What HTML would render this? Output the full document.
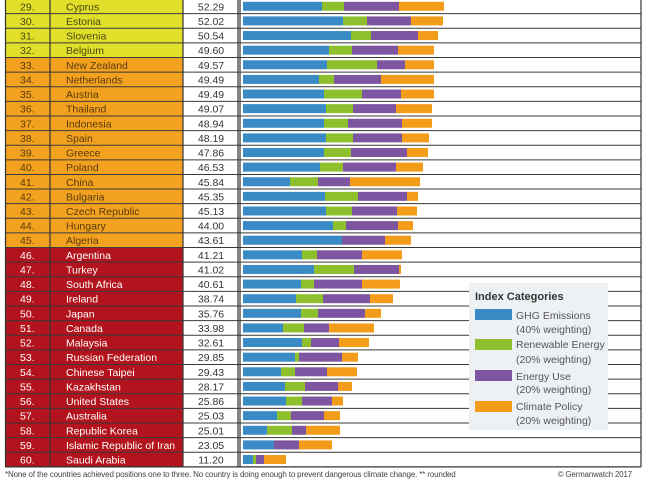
<!DOCTYPE html>
<html><head><meta charset="utf-8"><style>
html,body{margin:0;padding:0;background:#fff;}
svg{display:block;font-family:"Liberation Sans",sans-serif;}
</style></head><body>
<svg id="chart" width="649" height="488" viewBox="0 0 649 488" xmlns="http://www.w3.org/2000/svg">
<g id="rows"></g>
<g id="legend">
  <rect x="469" y="283" width="139" height="147" fill="#eef1f4"/>
  <text x="475" y="300" font-size="11" font-weight="bold" fill="#333">Index Categories</text>
  <rect x="475" y="309" width="37" height="11" fill="#3a8ac6"/>
  <text x="516" y="319" font-size="10.5" fill="#555">GHG Emissions</text>
  <text x="516" y="333" font-size="10.5" fill="#555">(40% weighting)</text>
  <rect x="475" y="339" width="37" height="11" fill="#8dc02c"/>
  <text x="516" y="348" font-size="10.5" fill="#555">Renewable Energy</text>
  <text x="516" y="363" font-size="10.5" fill="#555">(20% weighting)</text>
  <rect x="475" y="370" width="37" height="11" fill="#7d55a0"/>
  <text x="516" y="380" font-size="10.5" fill="#555">Energy Use</text>
  <text x="516" y="393" font-size="10.5" fill="#555">(20% weighting)</text>
  <rect x="475" y="401" width="37" height="11" fill="#f39c1a"/>
  <text x="516" y="410" font-size="10.5" fill="#555">Climate Policy</text>
  <text x="516" y="424" font-size="10.5" fill="#555">(20% weighting)</text>
</g>
<text x="5" y="477" font-size="8" fill="#444" letter-spacing="-0.15">*None of the countries achieved positions one to three. No country is doing enough to prevent dangerous climate change.  ** rounded</text>
<text x="632" y="477" font-size="7.8" fill="#444" text-anchor="end" letter-spacing="-0.1">© Germanwatch 2017</text>
</svg>
<script>
const ranks = [29,30,31,32,33,34,35,36,37,38,39,40,41,42,43,44,45,46,47,48,49,50,51,52,53,54,55,56,57,58,59,60];
const countries = ["Cyprus","Estonia","Slovenia","Belgium","New Zealand","Netherlands","Austria","Thailand","Indonesia","Spain","Greece","Poland","China","Bulgaria","Czech Republic","Hungary","Algeria","Argentina","Turkey","South Africa","Ireland","Japan","Canada","Malaysia","Russian Federation","Chinese Taipei","Kazakhstan","United States","Australia","Republic Korea","Islamic Republic of Iran","Saudi Arabia"];
const scores = ["52.29","52.02","50.54","49.60","49.57","49.49","49.49","49.07","48.94","48.19","47.86","46.53","45.84","45.35","45.13","44.00","43.61","41.21","41.02","40.61","38.74","35.76","33.98","32.61","29.85","29.43","28.17","25.86","25.03","25.01","23.05","11.20"];
const ghg = [79,100,108,86,84,76,81,83,81,83,81,77,47,82,83,90,99,59,71,58,53,58,40,59,52,38,42,43,34,24,31,10];
const renewable = [22,24,20,23,50,15,38,27,24,27,27,23,28,33,26,13,0,15,40,13,27,17,21,9,4,14,20,16,14,25,0,3];
const energyUse = [55,44,47,46,28,47,39,43,54,49,56,53,32,49,45,52,43,45,45,48,47,47,25,28,43,32,33,30,33,14,25,8];
const climatePolicy = [45,32,20,36,29,53,33,36,30,27,21,27,70,11,20,15,26,40,2,38,23,16,45,30,16,30,14,11,16,34,33,22];
const tiers = ["y","y","y","y","o","o","o","o","o","o","o","o","o","o","o","o","o","r","r","r","r","r","r","r","r","r","r","r","r","r","r","r"];

const NS = "http://www.w3.org/2000/svg";
const g = document.getElementById('rows');
const rowTop = -1, rowH = 14.62, barX0 = 243;
const xScale = v => v * 1.0;
const tierFill = {y:"#e2df2b", o:"#f3a21f", r:"#b3131c"};
const tierText = {y:"#4a4a10", o:"#5a3a08", r:"#ffffff"};
const segColors = ["#3a8ac6","#8dc02c","#7d55a0","#f39c1a"];
const segNames = ["ghg","renewable","energy-use","climate-policy"];
function mk(tag, attrs){const e=document.createElementNS(NS,tag);for(const k in attrs)e.setAttribute(k,attrs[k]);return e;}

for(let i=0;i<ranks.length;i++){
  const y = rowTop + i*rowH;
  const row = mk('g',{});
  
  
  const bg = mk('rect',{x:5,y:y,width:178,height:rowH,fill:tierFill[tiers[i]]});
  
  
  row.appendChild(bg);
  const cy = y + rowH/2 + 4;
  const rt = mk('text',{x:20,y:cy,'font-size':10.5,fill:tierText[tiers[i]]});
  rt.textContent = ranks[i] + ".";
  
  
  row.appendChild(rt);
  const ct = mk('text',{x:66,y:cy,'font-size':10.5,fill:tierText[tiers[i]]});
  ct.textContent = countries[i];
  
  
  row.appendChild(ct);
  const st = mk('text',{x:211,y:cy,'font-size':10.5,fill:"#333",'text-anchor':'middle'});
  st.textContent = scores[i];
  
  
  row.appendChild(st);
  const vals = [ghg[i],renewable[i],energyUse[i],climatePolicy[i]];
  let x = barX0;
  for(let s=0;s<4;s++){
    const w = xScale(vals[s]);
    if(w<=0) continue;
    const b = mk('rect',{x:x,y:y+2.8,width:w,height:9,fill:segColors[s]});
    
    
    row.appendChild(b);
    x += w;
  }
  g.appendChild(row);
}
const bottom = rowTop + ranks.length*rowH;
for(let i=1;i<ranks.length;i++){
  const y = rowTop + i*rowH;
  const l = mk('line',{x1:5,x2:641,y1:y,y2:y,stroke:"#3a3a3a",'stroke-width':1});
  
  
  g.appendChild(l);
}
[[5.5],[50],[183],[238],[240],[641]].forEach(([xx])=>{
  const l = mk('line',{x1:xx,x2:xx,y1:0,y2:bottom,stroke:"#333",'stroke-width':1.2});
  
  
  g.appendChild(l);
});
const bl = mk('line',{x1:5,x2:641,y1:bottom,y2:bottom,stroke:"#333",'stroke-width':1.2});


g.appendChild(bl);
</script>
</body></html>
